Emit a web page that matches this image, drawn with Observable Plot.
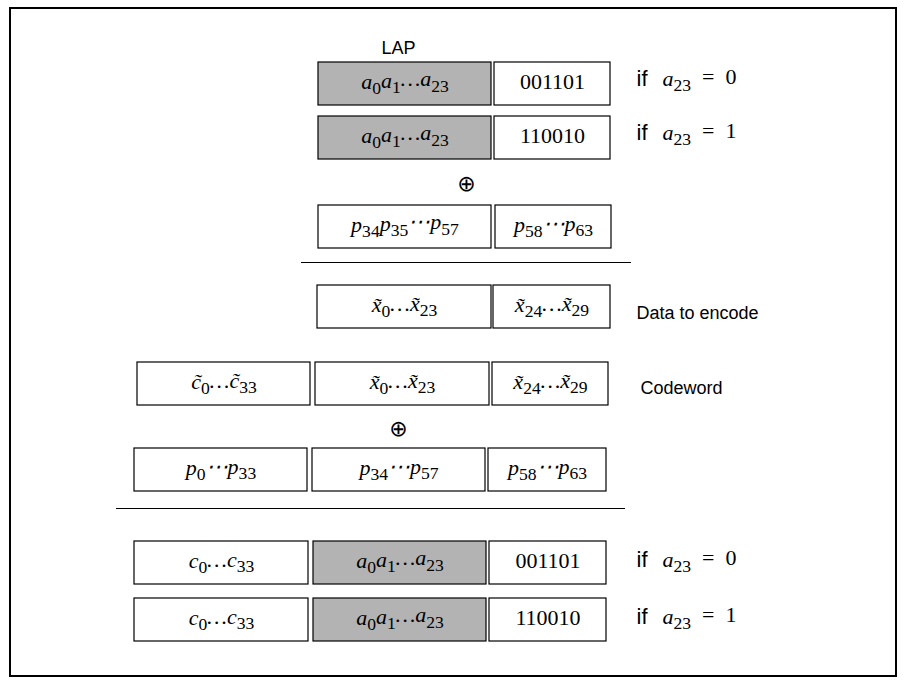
<!DOCTYPE html>
<html>
<head>
<meta charset="utf-8">
<script src="https://cdn.jsdelivr.net/npm/d3@7"></script>
<script src="https://cdn.jsdelivr.net/npm/@observablehq/plot@0.6"></script>
<style>
body { margin: 0; background: white; }
</style>
</head>
<body>
<div id="diagrama"></div>
<script>
// Cajas del diagrama: [x1, x2, y1, y2, relleno, etiqueta]
const cajas = [
  [318, 491, 62, 105, "#b3b3b3", "a_{0}a_{1}…a_{23}"],
  [494, 610, 62, 105, "white", "001101"],
  [318, 491, 116, 159, "#b3b3b3", "a_{0}a_{1}…a_{23}"],
  [494, 610, 116, 159, "white", "110010"],
  [318, 491, 205, 248, "white", "p_{34}p_{35}⋯p_{57}"],
  [495, 611, 205, 248, "white", "p_{58}⋯p_{63}"],
  [317, 491, 285, 328, "white", "x̃_{0}…x̃_{23}"],
  [493, 610, 285, 328, "white", "x̃_{24}…x̃_{29}"],
  [137, 310, 362, 405, "white", "c̃_{0}…c̃_{33}"],
  [315, 489, 362, 405, "white", "x̃_{0}…x̃_{23}"],
  [492, 608, 362, 405, "white", "x̃_{24}…x̃_{29}"],
  [134, 307, 448, 491, "white", "p_{0}⋯p_{33}"],
  [312, 485, 448, 491, "white", "p_{34}⋯p_{57}"],
  [488, 606, 448, 491, "white", "p_{58}⋯p_{63}"],
  [134, 308, 541, 584, "white", "c_{0}…c_{33}"],
  [313, 486, 541, 584, "#b3b3b3", "a_{0}a_{1}…a_{23}"],
  [489, 606, 541, 584, "white", "001101"],
  [134, 308, 598, 641, "white", "c_{0}…c_{33}"],
  [313, 486, 598, 641, "#b3b3b3", "a_{0}a_{1}…a_{23}"],
  [489, 606, 598, 641, "white", "110010"]
]
// Rótulos sans: [x, y, texto]
const rotulos = [
  [381, 48, "LAP"],
  [636, 313, "Data to encode"],
  [640, 388, "Codeword"]
]
// Condiciones: [x, y, valor]
const condiciones = [[636, 80, "0"], [636, 134, "1"], [636, 561, "0"], [636, 618, "1"]]
const xor = [[466, 183], [398, 428]]
const separadores = [[301, 631, 262], [116, 625, 508]]

const datosCajas = cajas.map(([x1, x2, y1, y2, fill, label]) => ({x1, x2, y1, y2, fill, label}))

const grafico = Plot.plot({
  width: 910, height: 685,
  margin: 0,
  x: {domain: [0, 910], axis: null},
  y: {domain: [0, 685], axis: null, reverse: true},
  marks: [
    Plot.rect([[10, 896, 8, 676]], {x1: d => d[0], x2: d => d[1], y1: d => d[2], y2: d => d[3], fill: "white", stroke: "black", strokeWidth: 2}),
    Plot.rect(datosCajas, {x1: "x1", x2: "x2", y1: "y1", y2: "y2", fill: d => d.fill, stroke: "black", strokeWidth: 1.2}),
    Plot.text(datosCajas, {x: d => (d.x1 + d.x2) / 2, y: d => (d.y1 + d.y2) / 2 - 2, text: "label", fontSize: 22, fontFamily: "Liberation Serif", className: "mat"}),
    Plot.text(rotulos, {x: d => d[0], y: d => d[1], text: d => d[2], textAnchor: "start", fontSize: 18, fontFamily: "Liberation Sans"}),
    Plot.text(condiciones, {x: d => d[0], y: d => d[1] - 2, text: d => "if", textAnchor: "start", fontSize: 22, fontFamily: "Liberation Sans"}),
    Plot.text(condiciones, {x: d => d[0] + 26, y: d => d[1] - 2, text: d => "a_{23}  =  " + d[2], textAnchor: "start", fontSize: 22, fontFamily: "Liberation Serif", className: "mat"}),
    Plot.text(xor, {x: d => d[0], y: d => d[1], text: d => "⊕", fontSize: 22, fontFamily: "DejaVu Sans"}),
    Plot.ruleY(separadores, {x1: d => d[0], x2: d => d[1], y: d => d[2], stroke: "black", strokeWidth: 1})
  ]
})

// subíndices: a_{0} -> tspan desplazado
d3.select(grafico).selectAll(".mat text").each(function () {
  const t = d3.select(this)
  const s = t.text()
  t.text(null)
  const partes = s.split(/(_\{[^}]*\})/)
  let sub = false
  partes.forEach(p => {
    if (!p) return
    if (p.startsWith("_{")) {
      t.append("tspan").attr("dy", "0.3em").attr("font-size", "0.8em").text(p.slice(2, -1))
      sub = true
    } else {
      const sp = t.append("tspan").attr("xml:space", "preserve").text(p)
      if (sub) sp.attr("dy", "-0.3em")
      if (!/^[0-9 =]+$/.test(p)) sp.attr("font-style", "italic")
      sub = false
    }
  })
})

d3.select('#diagrama').append(() => grafico)
</script>
</body>
</html>
